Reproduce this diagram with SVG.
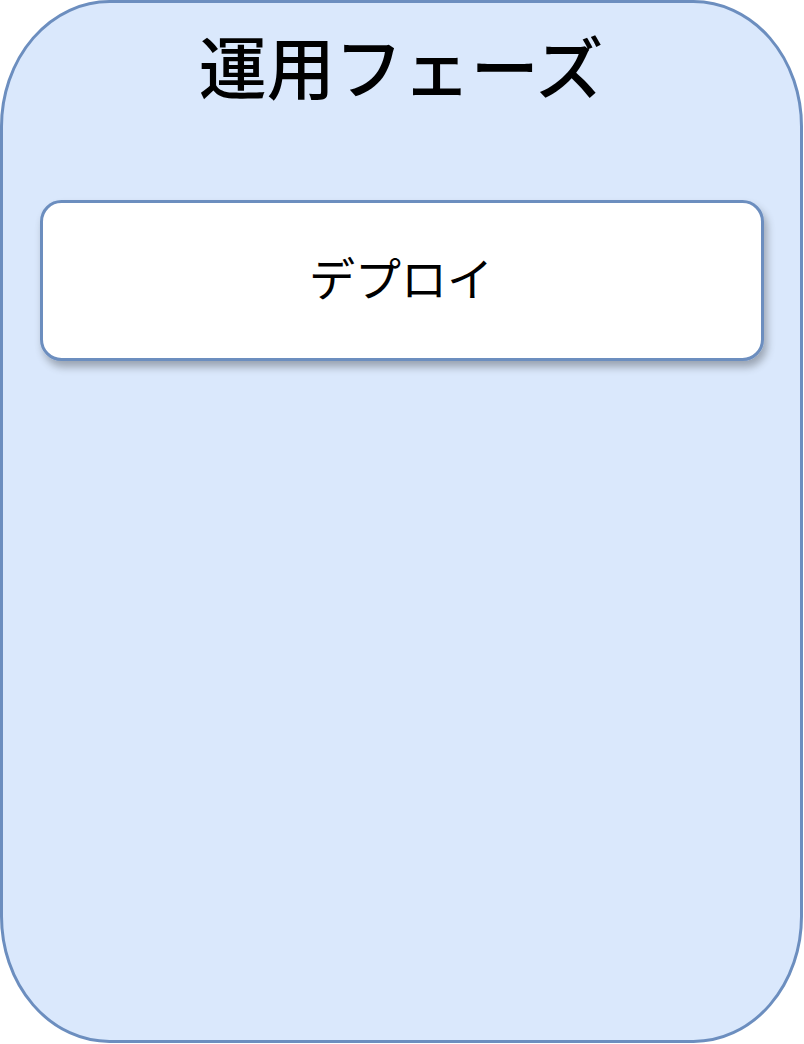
<svg xmlns="http://www.w3.org/2000/svg" width="804" height="1044" viewBox="0 0 804 1044">
<defs>
<filter id="sh" x="-10%" y="-20%" width="120%" height="150%">
<feGaussianBlur in="SourceAlpha" stdDeviation="4"/>
<feOffset dx="3" dy="6" result="b"/>
<feComponentTransfer><feFuncA type="linear" slope="0.3"/></feComponentTransfer>
<feMerge><feMergeNode/><feMergeNode in="SourceGraphic"/></feMerge>
</filter>
<style>
.t{font-family:"Noto Sans CJK JP","Noto Sans CJK SC",sans-serif;fill:#000;text-anchor:middle}
</style>
</defs>
<rect width="804" height="1044" fill="#ffffff"/>
<g id="phase">
<rect x="1.5" y="1.5" width="800" height="1040" rx="108" ry="125" fill="#dae8fc" stroke="#6c8ebf" stroke-width="3"/>
<text class="t" x="401" y="94" font-size="68" font-weight="500">運用フェーズ</text>
</g>
<g id="deploy">
<rect x="41.5" y="201.5" width="721" height="158" rx="20" ry="20" fill="#ffffff" stroke="#6c8ebf" stroke-width="3" filter="url(#sh)"/>
<text class="t" x="401" y="296" font-size="46">デプロイ</text>
</g>
<g id="connectors"/>
</svg>
